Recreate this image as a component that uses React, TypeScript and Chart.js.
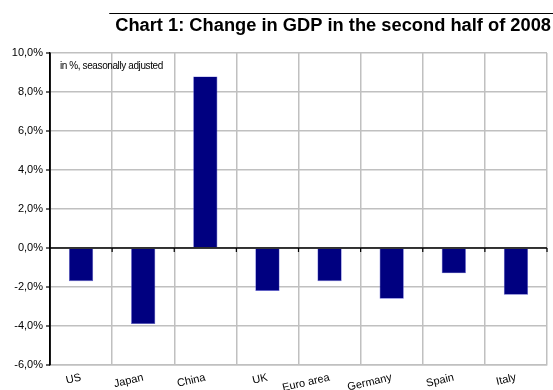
import React, { useEffect, useRef } from "react";
import { Chart, registerables } from "chart.js";

Chart.register(...registerables);

const categories = ["US", "Japan", "China", "UK", "Euro area", "Germany", "Spain", "Italy"];
const gdpChange = [-1.7, -3.9, 8.8, -2.2, -1.7, -2.6, -1.3, -2.4];
const titleText = "Chart 1: Change in GDP in the second half of 2008";
const noteText = "in %, seasonally adjusted";
const yMin = -6;
const yMax = 10;
const yStep = 2;

const FONT = "'Liberation Sans', Arial, sans-serif";

const decorPlugin = {
  id: "decor",
  afterDatasetsDraw(chart: any) {
    const { ctx, chartArea, scales } = chart;
    const y = scales.y;
    const x = scales.x;
    const y0 = y.getPixelForValue(0);
    ctx.save();
    // zero line
    ctx.strokeStyle = "#000";
    ctx.lineWidth = 1.5;
    ctx.beginPath();
    ctx.moveTo(chartArea.left, y0);
    ctx.lineTo(chartArea.right, y0);
    ctx.stroke();
    // ticks on zero line at category boundaries
    ctx.lineWidth = 1.2;
    const n = categories.length;
    const step = x.getPixelForValue(1) - x.getPixelForValue(0);
    for (let i = 1; i <= n; i++) {
      const px = x.getPixelForValue(i - 1) + step / 2;
      ctx.beginPath();
      ctx.moveTo(px, y0);
      ctx.lineTo(px, y0 + 4);
      ctx.stroke();
    }
    // y axis line
    ctx.lineWidth = 1.5;
    ctx.beginPath();
    ctx.moveTo(chartArea.left, chartArea.top);
    ctx.lineTo(chartArea.left, chartArea.bottom);
    ctx.stroke();
    // y ticks outward
    ctx.lineWidth = 1.2;
    for (let v = yMin; v <= yMax; v += yStep) {
      const py = y.getPixelForValue(v);
      ctx.beginPath();
      ctx.moveTo(chartArea.left - 4, py);
      ctx.lineTo(chartArea.left, py);
      ctx.stroke();
    }
    // note
    ctx.fillStyle = "#000";
    ctx.font = `10px ${FONT}`;
    ctx.textAlign = "left";
    ctx.textBaseline = "middle";
    (ctx as any).letterSpacing = "-0.4px";
    ctx.fillText(noteText, chartArea.left + 10, chartArea.top + 13);
    (ctx as any).letterSpacing = "0px";
    // title
    ctx.font = `bold 18.3px ${FONT}`;
    ctx.textAlign = "right";
    ctx.textBaseline = "middle";
    ctx.fillText(titleText, 551, 26);
    const w = ctx.measureText(titleText).width;
    ctx.strokeStyle = "#000";
    ctx.lineWidth = 1;
    ctx.beginPath();
    ctx.moveTo(551 - w - 6, 13.5);
    ctx.lineTo(553, 13.5);
    ctx.stroke();
    ctx.restore();
  },
};

export default function App() {
  const ref = useRef<HTMLCanvasElement>(null);
  useEffect(() => {
    const chart = new Chart(ref.current!, {
      type: "bar",
      data: {
        labels: categories,
        datasets: [
          {
            data: gdpChange,
            backgroundColor: "#000080",
            borderColor: "#5a5ad0",
            borderWidth: 0.6,
            barPercentage: 0.39,
            categoryPercentage: 1,
          },
        ],
      },
      options: {
        animation: false,
        responsive: false,
        layout: { padding: { top: 53, right: 6, left: 0, bottom: 0 } },
        plugins: { legend: { display: false }, tooltip: { enabled: false } },
        scales: {
          x: {
            offset: true,
            grid: { offset: true, color: "#c0c0c0", lineWidth: 1.5, drawTicks: false },
            border: { color: "#c0c0c0", width: 1.5 },
            ticks: {
              minRotation: 13,
              maxRotation: 13,
              color: "#000",
              padding: 6,
              font: { family: FONT, size: 11 },
            },
            afterFit(s: any) {
              s.height = 25;
            },
          },
          y: {
            min: yMin,
            max: yMax,
            grid: { color: "#c0c0c0", lineWidth: 1.5, drawTicks: false },
            border: { color: "#000", width: 1.5 },
            ticks: {
              stepSize: yStep,
              color: "#000",
              padding: 7,
              font: { family: FONT, size: 11 },
              callback: (v: any) => Number(v).toFixed(1).replace(".", ",") + "%",
            },
            afterFit(s: any) {
              s.width = 50;
            },
          },
        },
      },
      plugins: [decorPlugin],
    });
    return () => chart.destroy();
  }, []);
  return (
    <div style={{ position: "fixed", left: 0, top: 0, width: 553, height: 390, background: "#fff" }}>
      <canvas ref={ref} width={553} height={390} style={{ width: 553, height: 390 }} />
    </div>
  );
}
